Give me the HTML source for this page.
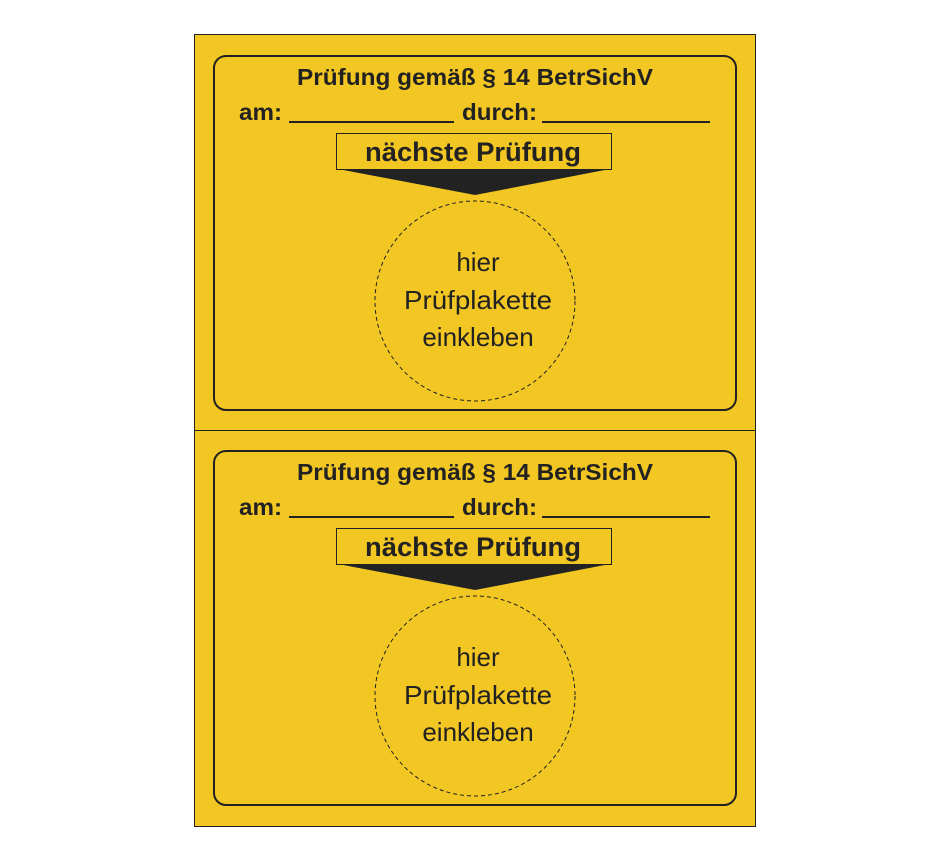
<!DOCTYPE html>
<html><head><meta charset="utf-8"><style>
html,body{margin:0;padding:0;background:#fff;}
svg{display:block;}
text{font-family:"Liberation Sans",Arial,sans-serif;fill:#222;}
</style></head><body>
<svg width="950" height="860" viewBox="0 0 950 860" xmlns="http://www.w3.org/2000/svg">
<rect x="194.5" y="34.5" width="561" height="792" fill="#f2c723" stroke="#222" stroke-width="1"/>
<line x1="194" y1="430.5" x2="755" y2="430.5" stroke="#222" stroke-width="1"/>
<defs>
<g id="card">
<rect x="214" y="56" width="522" height="354" rx="12" fill="none" stroke="#222" stroke-width="2"/>
<text x="475" y="85" text-anchor="middle" font-size="23" font-weight="bold" textLength="356" lengthAdjust="spacingAndGlyphs">Prüfung gemäß § 14 BetrSichV</text>
<text x="239" y="120" font-size="23" font-weight="bold" textLength="43" lengthAdjust="spacingAndGlyphs">am:</text>
<line x1="289" y1="122" x2="454" y2="122" stroke="#222" stroke-width="2"/>
<text x="462" y="120" font-size="23" font-weight="bold" textLength="75" lengthAdjust="spacingAndGlyphs">durch:</text>
<line x1="542" y1="122" x2="710" y2="122" stroke="#222" stroke-width="2"/>
<rect x="336.5" y="133.5" width="275" height="36" fill="none" stroke="#222" stroke-width="1"/>
<text x="473" y="161" text-anchor="middle" font-size="27" font-weight="bold" textLength="216" lengthAdjust="spacingAndGlyphs">nächste Prüfung</text>
<polygon points="338,169 610,169 475,195" fill="#222"/>
<circle cx="475" cy="301" r="100" fill="none" stroke="#222" stroke-width="1" stroke-dasharray="4,3"/>
<text x="478" y="271" text-anchor="middle" font-size="26">hier</text>
<text x="478" y="309" text-anchor="middle" font-size="26" textLength="148" lengthAdjust="spacingAndGlyphs">Prüfplakette</text>
<text x="478" y="346" text-anchor="middle" font-size="26">einkleben</text>
</g>
</defs>
<use href="#card"/>
<use href="#card" transform="translate(0,395)"/>
</svg>
</body></html>
